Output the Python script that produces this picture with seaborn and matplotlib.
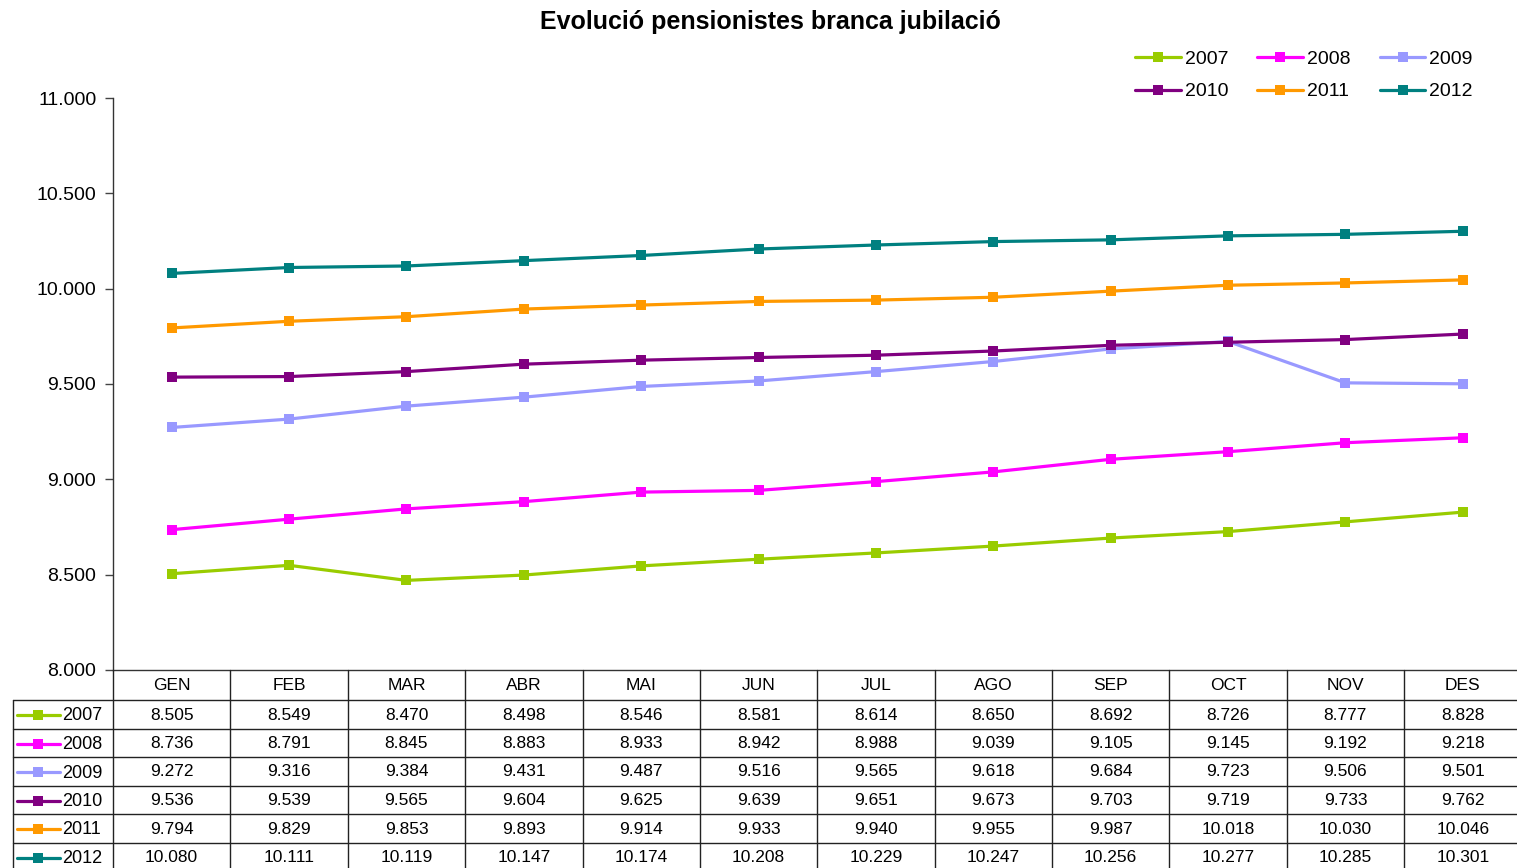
import matplotlib
matplotlib.use("Agg")
import matplotlib.pyplot as plt
from matplotlib.lines import Line2D
import seaborn as sns
import pandas as pd

months = ["GEN", "FEB", "MAR", "ABR", "MAI", "JUN", "JUL", "AGO", "SEP", "OCT", "NOV", "DES"]
years = ["2007", "2008", "2009", "2010", "2011", "2012"]
v2007 = [8505, 8549, 8470, 8498, 8546, 8581, 8614, 8650, 8692, 8726, 8777, 8828]
v2008 = [8736, 8791, 8845, 8883, 8933, 8942, 8988, 9039, 9105, 9145, 9192, 9218]
v2009 = [9272, 9316, 9384, 9431, 9487, 9516, 9565, 9618, 9684, 9723, 9506, 9501]
v2010 = [9536, 9539, 9565, 9604, 9625, 9639, 9651, 9673, 9703, 9719, 9733, 9762]
v2011 = [9794, 9829, 9853, 9893, 9914, 9933, 9940, 9955, 9987, 10018, 10030, 10046]
v2012 = [10080, 10111, 10119, 10147, 10174, 10208, 10229, 10247, 10256, 10277, 10285, 10301]
series = [v2007, v2008, v2009, v2010, v2011, v2012]
colors = ["#99CC00", "#FF00FF", "#9999FF", "#800080", "#FF9900", "#008080"]
yticks = [8000, 8500, 9000, 9500, 10000, 10500, 11000]
title = "Evolució pensionistes branca jubilació"

def fmt(v):
    return f"{v:,.0f}".replace(",", ".")

rows = []
for y, vals in zip(years, series):
    for i, v in enumerate(vals):
        rows.append({"month": i, "year": y, "value": v})
df = pd.DataFrame(rows)

W, H = 1517, 868
sns.set_theme(style="white")
plt.rcParams["font.family"] = ["Liberation Sans", "DejaVu Sans"]
plt.rcParams["text.color"] = "black"
plt.rcParams["ytick.color"] = "black"
plt.rcParams["ytick.labelcolor"] = "black"
fig = plt.figure(figsize=(W / 100, H / 100), dpi=100)

ax_left, ax_right, ax_top, ax_bot = 113, 1521.5, 98, 670
ax = fig.add_axes([ax_left / W, 1 - ax_bot / H, (ax_right - ax_left) / W, (ax_bot - ax_top) / H])
pal = dict(zip(years, colors))
sns.lineplot(data=df, x="month", y="value", hue="year", palette=pal, marker="s",
             markersize=7.5, markeredgewidth=0, linewidth=2.3, ax=ax, legend=False)
ax.set_xlim(-0.5, 11.5)
ax.set_ylim(8000, 11000)
ax.set_yticks(yticks)
ax.set_yticklabels([fmt(t) for t in yticks], fontsize=14)
ax.set_xticks([])
ax.set_xlabel("")
ax.set_ylabel("")
ax.tick_params(axis="y", direction="out", length=6, width=1, color="#444444", left=True, pad=6)
for s in ["top", "right"]:
    ax.spines[s].set_visible(False)
for s in ["left", "bottom"]:
    ax.spines[s].set_color("#333333")
    ax.spines[s].set_linewidth(1)

fig.text(770 / W, 1 - 22 / H, title, ha="center", va="center", fontsize=18, fontweight="bold")

# legend
handles = [Line2D([], [], color=c, marker="s", markersize=7.5, markeredgewidth=0, linewidth=2.3) for c in colors]
order = [0, 3, 1, 4, 2, 5]
leg = fig.legend([handles[i] for i in order], [years[i] for i in order], ncol=3,
                 loc="center", bbox_to_anchor=(1304 / W, 1 - 75.5 / H), frameon=False,
                 fontsize=14, handlelength=2.35, handletextpad=0.2, columnspacing=1.5,
                 labelspacing=0.75)

# data table
def fy(p):
    return 1 - p / H

def fx(p):
    return p / W

col_w = (ax_right - ax_left) / 12
row_tops = [700 + 28.5 * i for i in range(7)]
lc = "#222222"
fig.add_artist(Line2D([fx(13), fx(W)], [fy(700), fy(700)], color=lc, lw=1))
for yy in row_tops[1:6]:
    fig.add_artist(Line2D([fx(13), fx(W)], [fy(yy), fy(yy)], color=lc, lw=1))
fig.add_artist(Line2D([fx(13), fx(13)], [fy(700), fy(H)], color=lc, lw=1))
fig.add_artist(Line2D([fx(ax_left), fx(ax_left)], [fy(670), fy(H)], color=lc, lw=1))
for k in range(1, 12):
    xx = ax_left + col_w * k
    fig.add_artist(Line2D([fx(xx), fx(xx)], [fy(670), fy(H)], color=lc, lw=1))

for j, m in enumerate(months):
    fig.text(fx(ax_left + col_w * (j + 0.5)), fy(685), m, ha="center", va="center", fontsize=12.5)

for i, (y, vals, c) in enumerate(zip(years, series, colors)):
    yc = row_tops[i] + 15
    fig.add_artist(Line2D([fx(17), fx(38), fx(60)], [fy(yc)] * 3, color=c, lw=2.3,
                          marker="s", markersize=7.5, markeredgewidth=0, markevery=[1]))
    fig.text(fx(62), fy(yc + 1), y, ha="left", va="center", fontsize=13)
    for j, v in enumerate(vals):
        fig.text(fx(ax_left + col_w * (j + 0.5)), fy(yc), fmt(v), ha="center", va="center", fontsize=12.5)

fig.savefig("out.png", dpi=100)
